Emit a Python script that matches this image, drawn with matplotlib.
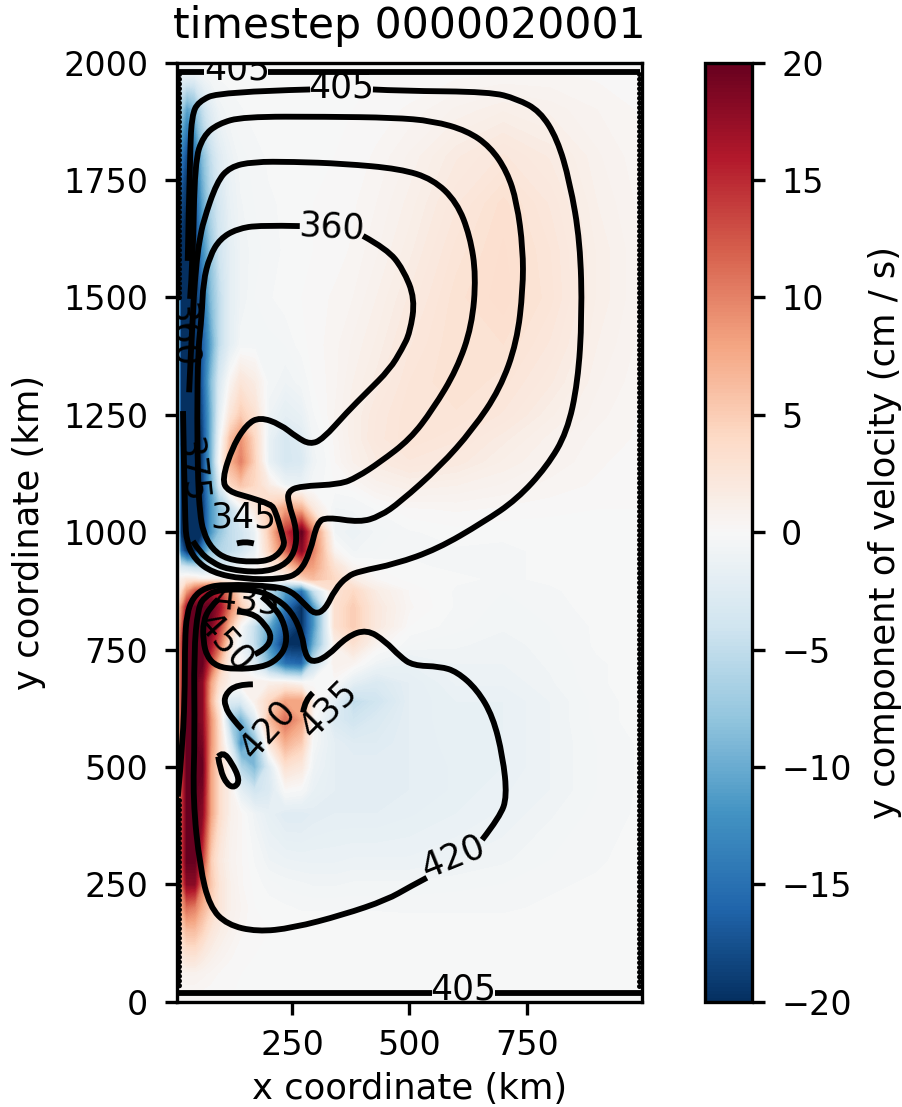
import numpy as np
import matplotlib
matplotlib.use("Agg")
import matplotlib.pyplot as plt
from matplotlib.cm import ScalarMappable
from matplotlib.colors import Normalize
from matplotlib.path import Path
from matplotlib.patches import PathPatch

# velocity field (cm / s), rows run top to bottom
x_nodes = [5, 12, 25, 42, 58, 76, 95, 118, 140, 170, 200, 235, 270, 295, 340, 380, 430, 500, 600, 700, 800, 900, 995]
y_nodes = [2000, 1970, 1900, 1800, 1700, 1600, 1500, 1400, 1320, 1250, 1200, 1150, 1100, 1050, 1000, 960, 925, 900, 875,
           840, 800, 760, 720, 680, 640, 600, 550, 500, 450, 400, 300, 250, 200, 150, 100, 60, 0]
v_field = [
    [0, 0, 0, 0, 0, 0, 0, 0, 0, 0, 0, 0, 0, 0, 0, 0, 0, 0, 0, 0, 0, 0, 0],
    [0, -2, -2, -2, -1, -.5, -.2, -.1, 0, 0, 0, 0, 0, 0, 0, 0, 0, 0, .2, .3, .3, .2, .1],
    [0, -7, -11, -9, -5, -2.5, -1, -.5, -.3, -.1, -.1, -.1, 0, 0, 0, 0, .1, .3, .8, 1.2, .9, .5, .2],
    [0, -14, -18, -15, -9, -5, -2.5, -1.2, -.6, -.4, -.2, -.2, -.1, 0, 0, .1, .3, .8, 1.7, 2.3, 1.7, .8, .3],
    [0, -18, -20, -18, -11, -6, -3.5, -1.5, -.8, -.5, -.3, -.2, -.1, 0, .1, .2, .5, 1.1, 2.2, 3.1, 2.2, 1, .4],
    [0, -20, -20, -20, -13, -8, -4, -2, -1, -.6, -.4, -.2, -.1, 0, .1, .3, .7, 1.4, 2.6, 3.3, 2.5, 1.2, .5],
    [0, -20, -20, -20, -16, -9, -5, -2, -1, -.5, -.3, -.1, 0, .1, .3, .5, 1, 1.8, 2.9, 3.4, 2.6, 1.2, .5],
    [0, -20, -20, -20, -17, -11, -5, -2, -.6, -.5, -.6, -.5, -.1, .1, .4, .8, 1.3, 2.2, 3, 3, 2.2, 1, .4],
    [0, -20, -20, -20, -17, -9, -3, .5, 2.5, 1.5, -.5, -1, -.6, 0, .4, 1, 1.6, 2.5, 3, 2.6, 1.8, .8, .3],
    [0, -20, -20, -20, -18, -10, -2, 2.5, 5, 3, -1, -2, -1.5, -.3, .5, 1.2, 2, 2.7, 2.7, 2.2, 1.3, .6, .2],
    [0, -20, -20, -20, -19, -10, -1, 6, 9, 4, -1.5, -3.5, -2.5, -.7, .3, 1.2, 2.1, 2.7, 2.3, 1.6, .9, .4, .2],
    [0, -20, -20, -20, -19, -10, 0, 7, 10, 4.5, -1.5, -3.5, -3, -1, .2, 1, 1.7, 2.2, 1.9, 1.2, .7, .3, .1],
    [0, -20, -20, -20, -19, -11, -3, 4, 5.5, 4, 1.5, -1, -1.5, -.5, 0, .2, .8, 1.2, 1, .7, .4, .2, .1],
    [0, -20, -20, -20, -20, -12, -8, -5, -1, 2, 5, 8, 7, 2, -.8, -.7, -.2, .2, .3, .2, .1, 0, 0],
    [0, -20, -20, -20, -20, -12, -8, -5, -4, -1.5, 5, 14, 20, 10, -.8, -1.2, -.7, -.3, -.1, -.2, -.2, -.1, 0],
    [0, -15, -20, -20, -14, -8, -6, -5, -4, -1.5, 4, 11, 18, 10, .5, -.8, -.5, -.3, -.3, -.3, -.2, -.1, 0],
    [0, -3, -4, -5, -5, -4, -3.5, -2.5, -1, 0, 1.5, 4, 9, 8, 3, .5, 0, -.2, -.3, -.3, -.2, -.1, 0],
    [0, 1, 2, 2, 1, 1, 1, .5, .2, 0, .2, .7, 4, 6, 4, 1.5, .2, -.1, -.2, -.3, -.2, -.1, 0],
    [0, 3, 8, 12, 15, 17, 15, 8, 3, -1, -5, -11, -15, -5, 3, 4, 1.5, .2, -.3, -.5, -.3, -.1, 0],
    [0, 8, 16, 20, 20, 20, 17, 10, 5, 1, -3, -15, -20, -12, 3, 5, 2, .3, -.3, -.6, -.4, -.1, 0],
    [0, 10, 20, 20, 20, 19, 14, 6, 0, -5, -10, -17, -20, -12, 3, 5, 2, 0, -.4, -.7, -.5, -.2, 0],
    [0, 12, 20, 20, 20, 17, 11, 2, -1, -5, -12, -20, -20, -10, 1, 3, .5, -.5, -.7, -.9, -.6, -.2, -.1],
    [0, 12, 20, 20, 20, 13, 6, 1, 0, -3, -9, -15, -16, -5, 1, .5, -1, -1.5, -1, -1, -.7, -.3, -.1],
    [0, 12, 20, 20, 18, 8, 3, 1, 1, 1, 1, 1, 0, 0, 0, -2, -3, -2, -1.2, -1.2, -.8, -.3, -.1],
    [0, 12, 20, 20, 18, 7, 1, -3, -3, 1, 4, 8, 8, 1, -2, -5, -4, -2, -1.5, -1.5, -1, -.4, -.1],
    [0, 12, 20, 20, 18, 9, 3, -7, -10, -3, 6, 11, 8, 0, -3, -4, -3, -2, -1.5, -1.5, -1, -.4, -.1],
    [0, 12, 20, 20, 19, 9, 3.5, -3, -12, -9, 2, 7, 5, -.5, -2, -2.5, -2.5, -2, -1.6, -1.5, -1, -.5, -.2],
    [0, 12, 20, 20, 20, 8, 3.5, .3, -6, -9, -3, 3, 2, -1, -2, -2, -2, -2, -1.7, -1.5, -1, -.5, -.2],
    [0, 12, 20, 20, 19, 8, 3.5, 1, -2, -4, -3, 0, -.3, -1.5, -2, -2, -2, -2, -1.7, -1.3, -1, -.5, -.2],
    [0, 12, 20, 20, 18, 8, 3.5, 1, .3, -1, -1.8, -2.5, -2.5, -2.2, -2, -2, -2, -1.8, -1.5, -1.2, -.8, -.4, -.2],
    [0, 12, 20, 20, 14, 5, 2, .7, .3, -.3, -1, -1.2, -1.3, -1.3, -1.3, -1.2, -1.2, -1.2, -1, -.8, -.5, -.3, -.1],
    [0, 10, 18, 18, 10, 5.5, 2.5, 1, .3, -.1, -.4, -.6, -.7, -.8, -.8, -.7, -.7, -.7, -.6, -.5, -.3, -.2, -.1],
    [0, 7, 11, 10, 7, 4.5, 2.5, 1, .5, 0, -.1, -.2, -.3, -.3, -.3, -.3, -.3, -.3, -.3, -.3, -.2, -.1, 0],
    [0, 4, 6, 6, 4.5, 2.5, 1.5, .8, .3, .1, 0, 0, 0, 0, 0, 0, 0, -.1, -.1, -.1, -.1, 0, 0],
    [0, 2, 3, 3, 2, 1.2, .7, .3, .1, 0, 0, 0, 0, 0, 0, 0, 0, 0, 0, 0, 0, 0, 0],
    [0, .6, .8, .8, .6, .4, .2, .1, 0, 0, 0, 0, 0, 0, 0, 0, 0, 0, 0, 0, 0, 0, 0],
    [0, 0, 0, 0, 0, 0, 0, 0, 0, 0, 0, 0, 0, 0, 0, 0, 0, 0, 0, 0, 0, 0, 0],
]

# contour lines, (x km, y km)
line_405_top_a = [(5, 1981), (62, 1981)]
line_405_top_b = [(199, 1981), (992, 1981)]
line_405_bot_a = [(8, 18), (548, 18)]
line_405_bot_b = [(682, 18), (994, 18)]
line_405_a = [(27, 1578), (32, 1816), (36, 1887), (49, 1917), (96, 1938), (288, 1943)]
line_405_b = [(422, 1943), (480, 1940), (672, 1938), (729, 1923), (778, 1897), (815, 1838), (842, 1746), (864, 1618),
              (868, 1460), (859, 1319), (836, 1213), (793, 1140), (729, 1070), (657, 1021), (559, 964), (469, 932),
              (394, 917), (367, 906), (341, 878), (320, 835), (298, 825), (277, 846), (249, 874), (213, 885),
              (106, 889), (64, 882), (38, 861), (25, 825), (21, 768), (21, 676), (17, 558), (6, 437)]
line_390_a = [(32, 1497), (38, 1576), (42, 1789), (60, 1844), (92, 1870), (145, 1885), (324, 1885), (465, 1883),
              (550, 1876), (623, 1855), (672, 1821), (708, 1768), (729, 1703), (742, 1603), (742, 1518), (729, 1405),
              (693, 1305), (635, 1219), (565, 1140), (480, 1064), (437, 1034), (394, 1021), (324, 1032), (303, 1021),
              (288, 957), (266, 914), (230, 900), (145, 900), (79, 914), (42, 942), (25, 978), (21, 1027), (17, 1258)]
line_375 = [(30, 1298), (38, 1482), (47, 1588), (53, 1625), (60, 1661), (89, 1746), (117, 1778), (166, 1789),
            (251, 1789), (358, 1785), (480, 1774), (550, 1752), (601, 1703), (629, 1631), (642, 1546), (633, 1439),
            (601, 1347), (550, 1262), (501, 1198), (437, 1149), (388, 1117), (352, 1102), (266, 1098), (241, 1087),
            (241, 1064), (260, 1006), (256, 957), (230, 927), (181, 914), (111, 921), (79, 936), (53, 957), (38, 981)]
line_360 = [(266, 1652), (181, 1654), (132, 1646), (96, 1625), (74, 1588), (60, 1533), (57, 1460), (49, 1390),
            (47, 1241), (49, 1106), (53, 1042), (60, 1000), (79, 964), (111, 942), (166, 936), (209, 942), (234, 970),
            (230, 991), (213, 1049), (202, 1060), (160, 1074), (113, 1087), (100, 1112), (123, 1183), (153, 1230),
            (181, 1245), (224, 1230), (260, 1202), (288, 1187), (315, 1198), (367, 1256), (409, 1298), (458, 1347),
            (484, 1390), (501, 1425), (512, 1497), (486, 1561), (452, 1603), (401, 1631)]
line_345 = [(132, 976), (149, 981), (168, 976)]
line_420_a = [(537, 264), (501, 245), (452, 217), (358, 185), (251, 157), (175, 149), (111, 164), (74, 202), (53, 287),
              (38, 430), (42, 565), (40, 743), (49, 840), (64, 863), (92, 878), (170, 878), (213, 861), (249, 831),
              (271, 782), (277, 740), (292, 722), (324, 735), (367, 778), (409, 793), (448, 768), (480, 735),
              (507, 716), (565, 714), (601, 703), (644, 665), (678, 607), (699, 522), (708, 437), (693, 394), (655, 345)]
line_435_ring = [(92, 857), (74, 840), (60, 810), (60, 768), (68, 735), (89, 714), (128, 708), (185, 712), (219, 729),
                 (239, 761), (234, 804), (213, 840), (185, 863)]
line_450 = [(132, 831), (164, 829), (192, 804), (207, 776), (192, 750), (170, 740)]
line_435_b = [(166, 676), (132, 676), (106, 654), (106, 629), (123, 601), (143, 580)]
line_435_c = [(294, 658), (277, 643), (273, 616)]
line_450_loop = [(92, 522), (102, 533), (121, 509), (138, 473), (128, 456), (111, 462), (96, 494), (92, 522)]
contour_lines = [line_405_top_a, line_405_top_b, line_405_bot_a, line_405_bot_b, line_405_a, line_405_b, line_390_a,
                 line_375, line_360, line_345, line_420_a, line_435_ring, line_450, line_435_b, line_435_c,
                 line_450_loop]

# contour labels: text, x, y, rotation
contour_labels = [("405", 132, 1985, 0), ("405", 354, 1947, 0), ("360", 335, 1650, -3), ("375", 34, 1134, -84),
                  ("360", 17, 1422, -88), ("345", 145, 1032, 0), ("435", 153, 853, -6), ("450", 106, 765, -48),
                  ("420", 198, 580, 48), ("435", 326, 622, 45), ("420", 593, 309, 22), ("405", 614, 25, 0)]

# wall cells at the side boundaries
wall_left_upper = [1975, 1497]
wall_left_lower = [430, 25]
wall_right = [1975, 25]

x_ticks = [250, 500, 750]
y_ticks = [0, 250, 500, 750, 1000, 1250, 1500, 1750, 2000]
cbar_ticks = [-20, -15, -10, -5, 0, 5, 10, 15, 20]


def smooth_path(points):
    pts = np.array(points, dtype=float)
    if len(pts) < 3:
        return Path(pts)
    verts = [pts[0]]
    codes = [Path.MOVETO]
    for i in range(1, len(pts) - 1):
        end = pts[i + 1] if i == len(pts) - 2 else (pts[i] + pts[i + 1]) / 2
        verts += [pts[i], end]
        codes += [Path.CURVE3, Path.CURVE3]
    return Path(verts, codes)


plt.rcParams["font.size"] = 8
plt.rcParams["axes.labelsize"] = 8.5
plt.rcParams["axes.titlesize"] = 10.2
plt.rcParams["xtick.major.size"] = 3
plt.rcParams["ytick.major.size"] = 3
plt.rcParams["ytick.major.pad"] = 4
fig = plt.figure(figsize=(903 / 300, 1107 / 300), dpi=300)
ax = fig.add_axes([177.4 / 903, 105.3 / 1107, 464.2 / 903, 939 / 1107])
cax = fig.add_axes([705 / 903, 105.3 / 1107, 47 / 903, 939 / 1107])

norm = Normalize(-20, 20)
ax.contourf(x_nodes, y_nodes[::-1], np.array(v_field)[::-1], levels=np.linspace(-20, 20, 161), cmap="RdBu_r",
            norm=norm, extend="both")

for line in contour_lines:
    ax.add_patch(PathPatch(smooth_path(line), fill=False, edgecolor="black", lw=1.4, capstyle="butt", zorder=3))

for ys, wx in [(wall_left_upper, 8), (wall_left_lower, 8), (wall_right, 989)]:
    ax.plot([wx, wx], ys, color="black", lw=1.2, linestyle=(0, (0.01, 0.94)), dash_capstyle="round", zorder=3)

for text, tx, ty, rot in contour_labels:
    ax.text(tx, ty, text, ha="center", va="center", rotation=rot, rotation_mode="anchor", clip_on=True, zorder=4,
            fontsize=8.3)

ax.set_xlim(5, 995)
ax.set_ylim(0, 2000)
ax.set_xticks(x_ticks)
ax.set_yticks(y_ticks)
ax.set_xlabel("x coordinate (km)", labelpad=2.5)
ax.set_ylabel("y coordinate (km)")
ax.set_title("timestep 0000020001")

cbar = fig.colorbar(ScalarMappable(norm=norm, cmap="RdBu_r"), cax=cax, ticks=cbar_ticks)
cbar.set_label("y component of velocity (cm / s)")

fig.savefig("out.png", dpi=300)
